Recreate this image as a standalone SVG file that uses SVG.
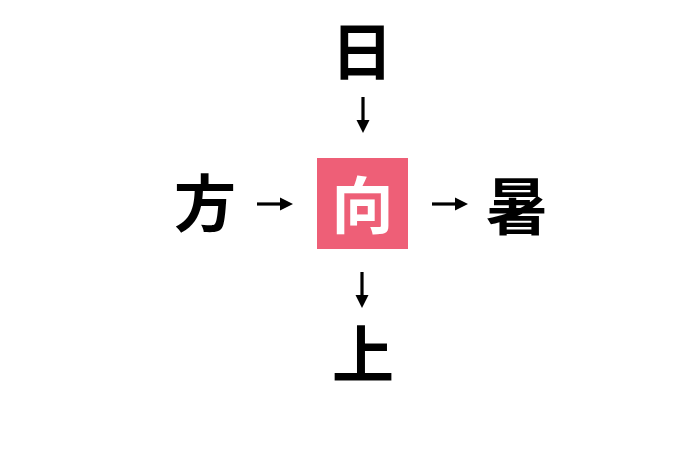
<svg xmlns="http://www.w3.org/2000/svg" width="680" height="453" viewBox="0 0 680 453">
<defs>
<style>
.k{font-family:"Noto Sans CJK JP","Noto Sans CJK SC",sans-serif;font-size:62px;font-weight:700;fill:#000;text-anchor:middle}
.w{fill:#fff}
.a{stroke:#000;stroke-width:3.2;fill:none}
.h{fill:#000}
</style>
</defs>
<rect width="680" height="453" fill="#fff"/>
<g id="connectors">
<g id="arrow-top"><line class="a" x1="363" y1="97" x2="363" y2="122"/><path class="h" d="M356.5 120 L369.5 120 L363 133 Z"/></g>
<g id="arrow-left"><line class="a" x1="257" y1="204" x2="282" y2="204"/><path class="h" d="M280 197.5 L280 210.5 L293 204 Z"/></g>
<g id="arrow-right"><line class="a" x1="432" y1="204" x2="457" y2="204"/><path class="h" d="M455 197.5 L455 210.5 L468 204 Z"/></g>
<g id="arrow-bottom"><line class="a" x1="362" y1="272" x2="362" y2="297"/><path class="h" d="M355.5 295 L368.5 295 L362 308 Z"/></g>
</g>
<g id="node-top"><text class="k" x="362" y="75">日</text></g>
<g id="node-left"><text class="k" x="205" y="227">方</text></g>
<g id="node-center"><rect x="317" y="158" width="91" height="91" fill="#EE5F77"/><text class="k w" x="362.5" y="229">向</text></g>
<g id="node-right"><text class="k" x="517" y="230">暑</text></g>
<g id="node-bottom"><text class="k" x="363" y="378">上</text></g>
</svg>
